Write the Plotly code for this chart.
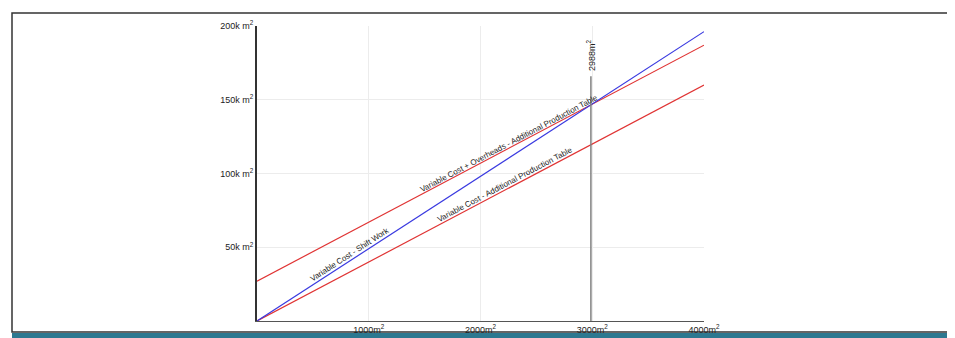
import math
import plotly.graph_objects as go

# data (m2 produced vs cost)
area = [0, 4000]
shift_work = [0, 196160]
overheads_table = [27000, 187000]
variable_table = [0, 160000]
breakeven = 2988

x_ticks = [1000, 2000, 3000, 4000]
x_tick_text = ["1000m<sup>2</sup>", "2000m<sup>2</sup>", "3000m<sup>2</sup>", "4000m<sup>2</sup>"]
y_ticks = [50000, 100000, 150000, 200000]
y_tick_text = ["50k m<sup>2</sup>", "100k m<sup>2</sup>", "150k m<sup>2</sup>", "200k m<sup>2</sup>"]

# the page body adds an 8px margin, so the figure starts at (8, 8)
OFF = 8
W, H = 955 - OFF, 338 - OFF
L, T = 257 - OFF, 26 - OFF
R, B = 955 - 704, 338 - 321
pw, ph = W - L - R, H - T - B
XMAX, YMAX = 4000, 200000


def px_angle(ys):
    # screen angle of a straight line drawn between area[0] and area[1]
    dx = (area[1] - area[0]) / XMAX * pw
    dy = (ys[1] - ys[0]) / YMAX * ph
    return -math.degrees(math.atan2(dy, dx))


def paper_x(p):
    return (p - OFF - L) / pw


def paper_y(p):
    return (H - B - (p - OFF)) / ph


fig = go.Figure()
fig.add_trace(go.Scatter(x=area, y=overheads_table, mode="lines",
                         line=dict(color="#e03434", width=1.2), hoverinfo="skip"))
fig.add_trace(go.Scatter(x=area, y=variable_table, mode="lines",
                         line=dict(color="#e03434", width=1.2), hoverinfo="skip"))
fig.add_trace(go.Scatter(x=area, y=shift_work, mode="lines",
                         line=dict(color="#3a3ae0", width=1.2), hoverinfo="skip"))

# break-even marker
top = 166000
fig.add_shape(type="line", x0=breakeven, x1=breakeven, y0=0, y1=top,
              line=dict(color="#808080", width=1.5), layer="above")
fig.add_annotation(x=breakeven, y=top, text=f"{breakeven}m<sup>2</sup>", textangle=-90,
                   showarrow=False, yanchor="bottom", xanchor="center", yshift=3,
                   font=dict(size=9, color="#222"))


def line_label(text, xpos, ys, shift):
    yv = ys[0] + (ys[1] - ys[0]) * (xpos - area[0]) / (area[1] - area[0])
    fig.add_annotation(x=xpos, y=yv, text=text, textangle=px_angle(ys), showarrow=False,
                       yshift=shift, font=dict(size=8, color="#222"))


line_label("Variable Cost - Shift Work", 832, shift_work, 6)
line_label("Variable Cost + Overheads - Additional Production Table", 2255, overheads_table, 5)
line_label("Variable Cost - Additional Production Table", 2219, variable_table, 6)

# page frame and bottom bar
fig.add_shape(type="rect", xref="paper", yref="paper",
              x0=paper_x(12), x1=paper_x(948), y0=paper_y(332), y1=paper_y(13),
              line=dict(color="#333", width=1.5), fillcolor="rgba(0,0,0,0)", layer="below")
fig.add_shape(type="rect", xref="paper", yref="paper",
              x0=paper_x(12), x1=paper_x(949), y0=paper_y(338), y1=paper_y(333),
              line=dict(width=0), fillcolor="#2d7890")

fig.update_layout(
    width=W, height=H,
    margin=dict(l=L, r=R, t=T, b=B, pad=0, autoexpand=False),
    showlegend=False,
    paper_bgcolor="white",
    plot_bgcolor="white",
    font=dict(family="Liberation Sans, Arial, sans-serif", size=9, color="#222"),
    xaxis=dict(range=[0, XMAX], tickvals=x_ticks, ticktext=x_tick_text, automargin=False,
               showgrid=True, gridcolor="#ececec", gridwidth=1, zeroline=False,
               showline=True, linecolor="#555", linewidth=1, ticks="", fixedrange=True),
    yaxis=dict(range=[0, YMAX], tickvals=y_ticks, ticktext=y_tick_text, automargin=False,
               showgrid=True, gridcolor="#ececec", gridwidth=1, zeroline=False,
               showline=True, linecolor="#333", linewidth=2, ticks="", fixedrange=True),
)

fig.write_html("out.html")
